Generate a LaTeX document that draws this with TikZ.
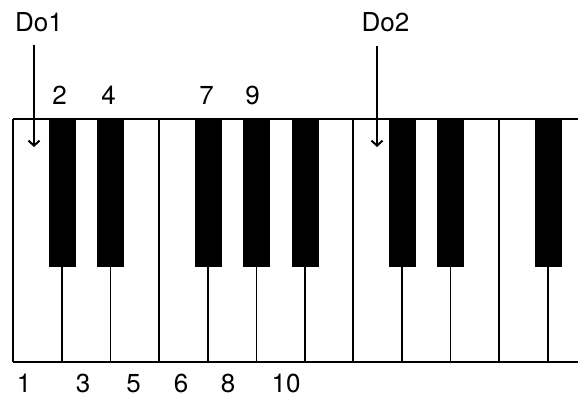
\documentclass[tikz,border=0pt]{standalone}
\usepackage{fontspec}
\setmainfont{TeX Gyre Heros}
\usetikzlibrary{arrows.meta}
\begin{document}
\begin{tikzpicture}[x=1pt,y=-1pt,
  lbl/.style={anchor=base,inner sep=0pt,font=\fontsize{26}{31}\selectfont},
  keyline/.style={line width=1.8pt},
  blackkey/.style={fill=black,draw=none,minimum width=27pt,minimum height=148pt,inner sep=0pt,anchor=north},
  pointer/.style={line width=2.2pt,-{Straight Barb[length=5pt,width=11pt,line width=2pt]}}]
\useasboundingbox (0,0) rectangle (584,401);
% frame
\draw[keyline] (13,119) coordinate (tl) -- (578,119) coordinate (tr);
\draw[line width=2.4pt] (12.5,362) coordinate (bl) -- (578,362) coordinate (br);
\draw[keyline] (13,119) -- (13,362);
% white key dividers without black keys
\foreach \x in {158.8,353.2,499}{
  \draw[keyline] (\x,119) -- (\x,362);
}
% dividers below black keys
\foreach \x [count=\i] in {61.8,110.4,207.8,256.4,305,401.8,450.4,547.8}{
  \draw[keyline] (\x,200) -- (\x,362);
  \node[blackkey] (bk\i) at (\x+0.5,119) {};
}
% labels
\node[lbl] (do1) at (39,32) {Do1};
\node[lbl] (do2) at (385.5,32) {Do2};
\coordinate (a1) at (34,147);
\coordinate (a2) at (377,147);
\draw[pointer] (34,45) -- (a1);
\draw[pointer] (377,46) -- (a2);
% top numbers
\node[lbl] (n2) at (59.5,105) {2};
\node[lbl] (n4) at (108.5,105) {4};
\node[lbl] (n7) at (206.5,105) {7};
\node[lbl] (n9) at (252.5,105) {9};
% bottom numbers
\node[lbl] (n1) at (24,392) {1};
\node[lbl] (n3) at (83,392) {3};
\node[lbl] (n5) at (133.5,392) {5};
\node[lbl] (n6) at (181,392) {6};
\node[lbl] (n8) at (228,392) {8};
\node[lbl] (n10) at (286,392) {10};
\end{tikzpicture}
\end{document}
